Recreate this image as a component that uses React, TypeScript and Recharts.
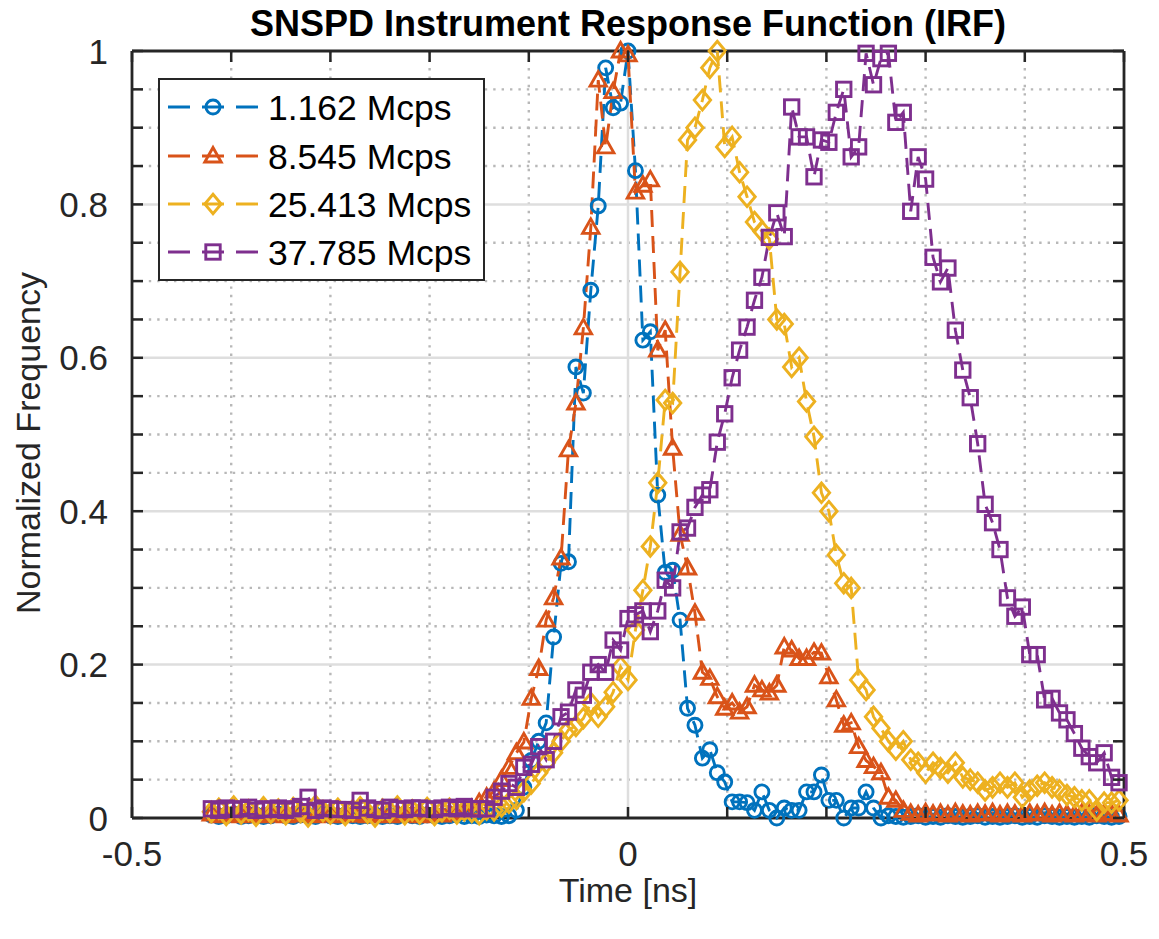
import { Legend, Line, LineChart, ReferenceLine, XAxis, YAxis } from "recharts";

// time bins (ns)
const timeNs = [
  -0.42, -0.4125, -0.405, -0.3975, -0.39, -0.3825, -0.375, -0.3675, -0.36, -0.3525,
  -0.345, -0.3375, -0.33, -0.3225, -0.315, -0.3075, -0.3, -0.2925, -0.285, -0.2775,
  -0.27, -0.2625, -0.255, -0.2475, -0.24, -0.2325, -0.225, -0.2175, -0.21, -0.2025,
  -0.195, -0.1875, -0.18, -0.1725, -0.165, -0.1575, -0.15, -0.1425, -0.135, -0.1275,
  -0.12, -0.1125, -0.105, -0.0975, -0.09, -0.0825, -0.075, -0.0675, -0.06, -0.0525,
  -0.045, -0.0375, -0.03, -0.0225, -0.015, -0.0075, 0, 0.0075, 0.015, 0.0225,
  0.03, 0.0375, 0.045, 0.0525, 0.06, 0.0675, 0.075, 0.0825, 0.09, 0.0975,
  0.105, 0.1125, 0.12, 0.1275, 0.135, 0.1425, 0.15, 0.1575, 0.165, 0.1725,
  0.18, 0.1875, 0.195, 0.2025, 0.21, 0.2175, 0.225, 0.2325, 0.24, 0.2475,
  0.255, 0.2625, 0.27, 0.2775, 0.285, 0.2925, 0.3, 0.3075, 0.315, 0.3225,
  0.33, 0.3375, 0.345, 0.3525, 0.36, 0.3675, 0.375, 0.3825, 0.39, 0.3975,
  0.405, 0.4125, 0.42, 0.4275, 0.435, 0.4425, 0.45, 0.4575, 0.465, 0.4725,
  0.48, 0.4875, 0.495,
];

const irf1162 = [
  0.004, 0.002, 0.003, 0.005, 0.002, 0.003, 0.004, 0.002, 0.003, 0.005,
  0.003, 0.002, 0.004, 0.003, 0.002, 0.005, 0.003, 0.002, 0.004, 0.003,
  0.002, 0.003, 0.004, 0.002, 0.003, 0.002, 0.005, 0.003, 0.002, 0.004,
  0.003, 0.002, 0.003, 0.004, 0.002, 0.003, 0.002, 0.004, 0.003, 0.002,
  0.003, 0.01, 0.04, 0.075, 0.1, 0.124, 0.236, 0.332, 0.334, 0.588,
  0.554, 0.688, 0.798, 0.978, 0.926, 0.932, 1.0, 0.844, 0.623, 0.634,
  0.421, 0.32, 0.323, 0.258, 0.143, 0.121, 0.078, 0.089, 0.059, 0.047,
  0.021, 0.021, 0.02, 0.01, 0.034, 0.01, 0.0, 0.013, 0.01, 0.01,
  0.034, 0.034, 0.056, 0.023, 0.023, 0.0, 0.013, 0.013, 0.034, 0.013,
  0.0, 0.003, 0.002, 0.001, 0.002, 0.003, 0.001, 0.002, 0.001, 0.003,
  0.002, 0.001, 0.002, 0.003, 0.001, 0.002, 0.001, 0.002, 0.003, 0.001,
  0.002, 0.001, 0.003, 0.002, 0.001, 0.002, 0.001, 0.002, 0.001, 0.003,
  0.002, 0.001, 0.002,
];

const irf8545 = [
  0.005, 0.003, 0.004, 0.006, 0.003, 0.005, 0.004, 0.003, 0.006, 0.004,
  0.003, 0.005, 0.004, 0.006, 0.003, 0.004, 0.005, 0.003, 0.004, 0.006,
  0.004, 0.003, 0.005, 0.004, 0.003, 0.006, 0.004, 0.005, 0.003, 0.004,
  0.005, 0.004, 0.006, 0.008, 0.01, 0.012, 0.02, 0.027, 0.035, 0.05,
  0.066, 0.085, 0.099, 0.156, 0.195, 0.258, 0.287, 0.339, 0.48, 0.541,
  0.639, 0.77, 0.962, 0.875, 0.947, 1.0, 0.995, 0.816, 0.825, 0.832,
  0.61, 0.636, 0.482, 0.37, 0.326, 0.267, 0.19, 0.182, 0.158, 0.143,
  0.15, 0.138, 0.145, 0.173, 0.167, 0.163, 0.173, 0.223, 0.219, 0.208,
  0.208, 0.216, 0.215, 0.184, 0.154, 0.121, 0.124, 0.093, 0.075, 0.067,
  0.059, 0.027, 0.023, 0.01, 0.006, 0.004, 0.007, 0.005, 0.006, 0.004,
  0.007, 0.005, 0.004, 0.006, 0.005, 0.007, 0.004, 0.006, 0.005, 0.004,
  0.006, 0.005, 0.007, 0.004, 0.006, 0.005, 0.004, 0.006, 0.005, 0.004,
  0.006, 0.005, 0.004,
];

const irf25413 = [
  0.008, 0.012, 0.004, 0.015, 0.006, 0.01, 0.003, 0.014, 0.007, 0.011,
  0.005, 0.013, 0.008, 0.002, 0.016, 0.009, 0.006, 0.012, 0.004, 0.01,
  0.014, 0.007, 0.002, 0.011, 0.008, 0.015, 0.005, 0.01, 0.006, 0.013,
  0.004, 0.009, 0.012, 0.006, 0.01, 0.008, 0.005, 0.011, 0.01, 0.015,
  0.02, 0.025, 0.035, 0.045, 0.059, 0.072, 0.085, 0.1, 0.115, 0.12,
  0.13, 0.15, 0.132, 0.145, 0.164, 0.197, 0.18, 0.245, 0.297, 0.354,
  0.437, 0.545, 0.541, 0.712, 0.884, 0.9, 0.936, 0.978, 1.0, 0.875,
  0.888, 0.842, 0.81, 0.777, 0.765, 0.755, 0.65, 0.644, 0.588, 0.6,
  0.543, 0.497, 0.424, 0.4, 0.343, 0.306, 0.3, 0.18, 0.167, 0.132,
  0.117, 0.1, 0.089, 0.1, 0.076, 0.072, 0.059, 0.072, 0.065, 0.059,
  0.072, 0.053, 0.05, 0.046, 0.036, 0.04, 0.046, 0.04, 0.046, 0.027,
  0.036, 0.042, 0.046, 0.04, 0.036, 0.03, 0.027, 0.023, 0.023, 0.01,
  0.02, 0.02, 0.023,
];

const irf37785 = [
  0.012, 0.01, 0.013, 0.011, 0.012, 0.014, 0.01, 0.012, 0.011, 0.013,
  0.01, 0.012, 0.015, 0.027, 0.01, 0.013, 0.012, 0.011, 0.011, 0.01,
  0.023, 0.013, 0.011, 0.01, 0.014, 0.012, 0.011, 0.013, 0.013, 0.012,
  0.011, 0.013, 0.014, 0.012, 0.015, 0.012, 0.012, 0.012, 0.027, 0.035,
  0.045, 0.04, 0.066, 0.07, 0.093, 0.076, 0.1, 0.132, 0.138, 0.167,
  0.16, 0.19, 0.2, 0.19, 0.232, 0.219, 0.26, 0.265, 0.27, 0.243,
  0.27, 0.31, 0.3, 0.373, 0.378, 0.405, 0.421, 0.428, 0.49, 0.527,
  0.574, 0.61, 0.64, 0.675, 0.705, 0.757, 0.789, 0.758, 0.927, 0.888,
  0.888, 0.836, 0.884, 0.881, 0.92, 0.95, 0.862, 0.875, 0.997, 0.956,
  0.99, 0.997, 0.907, 0.92, 0.791, 0.862, 0.833, 0.731, 0.699, 0.717,
  0.636, 0.584, 0.548, 0.488, 0.409, 0.385, 0.35, 0.287, 0.263, 0.275,
  0.213, 0.213, 0.154, 0.156, 0.137, 0.128, 0.11, 0.091, 0.08, 0.072,
  0.085, 0.053, 0.046,
];

const seriesNames = ["1.162 Mcps", "8.545 Mcps", "25.413 Mcps", "37.785 Mcps"];
const seriesColors = ["#0072BD", "#D95319", "#EDB120", "#7E2F8E"];
const seriesMarkers = ["circle", "triangle", "diamond", "square"];
const seriesKeys = ["r1", "r2", "r3", "r4"];

const xTicks = [-0.5, -0.4, -0.3, -0.2, -0.1, 0, 0.1, 0.2, 0.3, 0.4, 0.5];
const xLabelValues = [-0.5, 0, 0.5];
const xLabels = ["-0.5", "0", "0.5"];
const yTicks = [0, 0.05, 0.1, 0.15, 0.2, 0.25, 0.3, 0.35, 0.4, 0.45, 0.5, 0.55, 0.6, 0.65, 0.7, 0.75, 0.8, 0.85, 0.9, 0.95, 1];
const yLabelValues = [0, 0.2, 0.4, 0.6, 0.8, 1];
const yLabels = ["0", "0.2", "0.4", "0.6", "0.8", "1"];
const xMinorGrid = [-0.4, -0.3, -0.2, -0.1, 0.1, 0.2, 0.3, 0.4];
const xMajorGrid = [0];
const yMinorGrid = [0.05, 0.1, 0.15, 0.25, 0.3, 0.35, 0.45, 0.5, 0.55, 0.65, 0.7, 0.75, 0.85, 0.9, 0.95];
const yMajorGrid = [0.2, 0.4, 0.6, 0.8];

const rows = timeNs.map((t, i) => ({
  t,
  r1: irf1162[i],
  r2: irf8545[i],
  r3: irf25413[i],
  r4: irf37785[i],
}));

// chart sits at the page origin (body margin cancelled)
const W = 1159;
const H = 939;
const PLOT = { left: 132, right: 1124, top: 51, bottom: 818 };
const TICK = 11;
const AXIS = "#262626";
const FONT = "'Liberation Sans', Arial, Helvetica, sans-serif";
const LW = 2.9;

function Marker({ cx, cy, kind, color }: { cx: number; cy: number; kind: string; color: string }) {
  if (cx == null || cy == null) return null;
  const common = { fill: "none", stroke: color, strokeWidth: LW };
  if (kind === "circle") return <circle cx={cx} cy={cy} r={7} {...common} />;
  if (kind === "triangle")
    return <polygon points={`${cx},${cy - 8.5} ${cx + 8.2},${cy + 6} ${cx - 8.2},${cy + 6}`} {...common} strokeLinejoin="miter" />;
  if (kind === "diamond")
    return <polygon points={`${cx},${cy - 9.8} ${cx + 8.2},${cy} ${cx},${cy + 9.8} ${cx - 8.2},${cy}`} {...common} />;
  return <rect x={cx - 7.2} y={cy - 7.2} width={14.4} height={14.4} {...common} />;
}

const makeDot = (kind: string, color: string) => (p: any) =>
  <Marker key={`${kind}-${p.index}`} cx={p.cx} cy={p.cy} kind={kind} color={color} />;

function XTick(props: any) {
  const { x, payload } = props;
  const idx = xLabelValues.indexOf(payload.value);
  return (
    <g>
      <line x1={x} x2={x} y1={PLOT.bottom} y2={PLOT.bottom - TICK} stroke={AXIS} strokeWidth={2.5} />
      <line x1={x} x2={x} y1={PLOT.top} y2={PLOT.top + TICK} stroke={AXIS} strokeWidth={2.5} />
      {idx >= 0 && (
        <text x={x} y={866} textAnchor="middle" fontFamily={FONT} fontSize={35} fill={AXIS}>
          {xLabels[idx]}
        </text>
      )}
    </g>
  );
}

function YTick(props: any) {
  const { y, payload } = props;
  const idx = yLabelValues.indexOf(payload.value);
  return (
    <g>
      <line x1={PLOT.left} x2={PLOT.left + TICK} y1={y} y2={y} stroke={AXIS} strokeWidth={2.5} />
      <line x1={PLOT.right} x2={PLOT.right - TICK} y1={y} y2={y} stroke={AXIS} strokeWidth={2.5} />
      {idx >= 0 && (
        <text x={108} y={y + 12.5} textAnchor="end" fontFamily={FONT} fontSize={35} fill={AXIS}>
          {yLabels[idx]}
        </text>
      )}
    </g>
  );
}

function LegendBox() {
  const rowY = [29, 78, 126, 174];
  return (
    <svg width={328} height={204} style={{ display: "block" }}>
      <rect x={1} y={1} width={325} height={201} fill="#fff" stroke={AXIS} strokeWidth={2} />
      {seriesNames.map((name, i) => (
        <g key={name}>
          <line x1={10} x2={100} y1={rowY[i]} y2={rowY[i]} stroke={seriesColors[i]} strokeWidth={LW} strokeDasharray="22 12" />
          <Marker cx={55} cy={rowY[i]} kind={seriesMarkers[i]} color={seriesColors[i]} />
          <text x={110} y={rowY[i] + 12.5} fontFamily={FONT} fontSize={35.5} fill="#000">
            {name}
          </text>
        </g>
      ))}
    </svg>
  );
}

export default function App() {
  return (
    <div style={{ position: "relative", margin: -8, width: W, height: H }}>
      <LineChart width={W} height={H} data={rows} margin={{ top: PLOT.top, right: W - PLOT.right, bottom: 0, left: 0 }}>
        <XAxis
          dataKey="t"
          type="number"
          domain={[-0.5, 0.5]}
          ticks={xTicks}
          interval={0}
          tick={<XTick />}
          tickLine={false}
          axisLine={false}
          height={H - PLOT.bottom}
        />
        <YAxis
          type="number"
          domain={[0, 1]}
          ticks={yTicks}
          interval={0}
          tick={<YTick />}
          tickLine={false}
          axisLine={false}
          width={PLOT.left}
        />
        {xMinorGrid.map((v) => (
          <ReferenceLine key={`xm${v}`} x={v} stroke="#b8b8b8" strokeWidth={2.4} strokeDasharray="2.4 6" />
        ))}
        {yMinorGrid.map((v) => (
          <ReferenceLine key={`ym${v}`} y={v} stroke="#b8b8b8" strokeWidth={2.4} strokeDasharray="2.4 6" />
        ))}
        {xMajorGrid.map((v) => (
          <ReferenceLine key={`xM${v}`} x={v} stroke="#dedede" strokeWidth={2.5} />
        ))}
        {yMajorGrid.map((v) => (
          <ReferenceLine key={`yM${v}`} y={v} stroke="#dedede" strokeWidth={2.5} />
        ))}
        <ReferenceLine x={-0.5} stroke={AXIS} strokeWidth={2.8} />
        <ReferenceLine x={0.5} stroke={AXIS} strokeWidth={2.8} />
        <ReferenceLine y={0} stroke={AXIS} strokeWidth={2.8} />
        <ReferenceLine y={1} stroke={AXIS} strokeWidth={2.8} />
        {seriesKeys.map((k, i) => (
          <Line
            key={k}
            dataKey={k}
            name={seriesNames[i]}
            type="linear"
            stroke={seriesColors[i]}
            strokeWidth={LW}
            strokeDasharray="17 9"
            dot={makeDot(seriesMarkers[i], seriesColors[i])}
            activeDot={false}
            isAnimationActive={false}
          />
        ))}
        <Legend
          layout="vertical"
          align="center"
          verticalAlign="middle"
          content={() => <LegendBox />}
          wrapperStyle={{ left: 158, top: 78, width: 328, height: 204 }}
        />
        <text x={628} y={36} textAnchor="middle" fontFamily={FONT} fontSize={36} fontWeight="bold" fill="#000">
          SNSPD Instrument Response Function (IRF)
        </text>
        <text x={628} y={902} textAnchor="middle" fontFamily={FONT} fontSize={34} fill={AXIS}>
          Time [ns]
        </text>
        <text
          x={28}
          y={443}
          textAnchor="middle"
          dominantBaseline="central"
          transform="rotate(-90 28 443)"
          fontFamily={FONT}
          fontSize={34}
          fill={AXIS}
        >
          Normalized Frequency
        </text>
      </LineChart>
    </div>
  );
}
